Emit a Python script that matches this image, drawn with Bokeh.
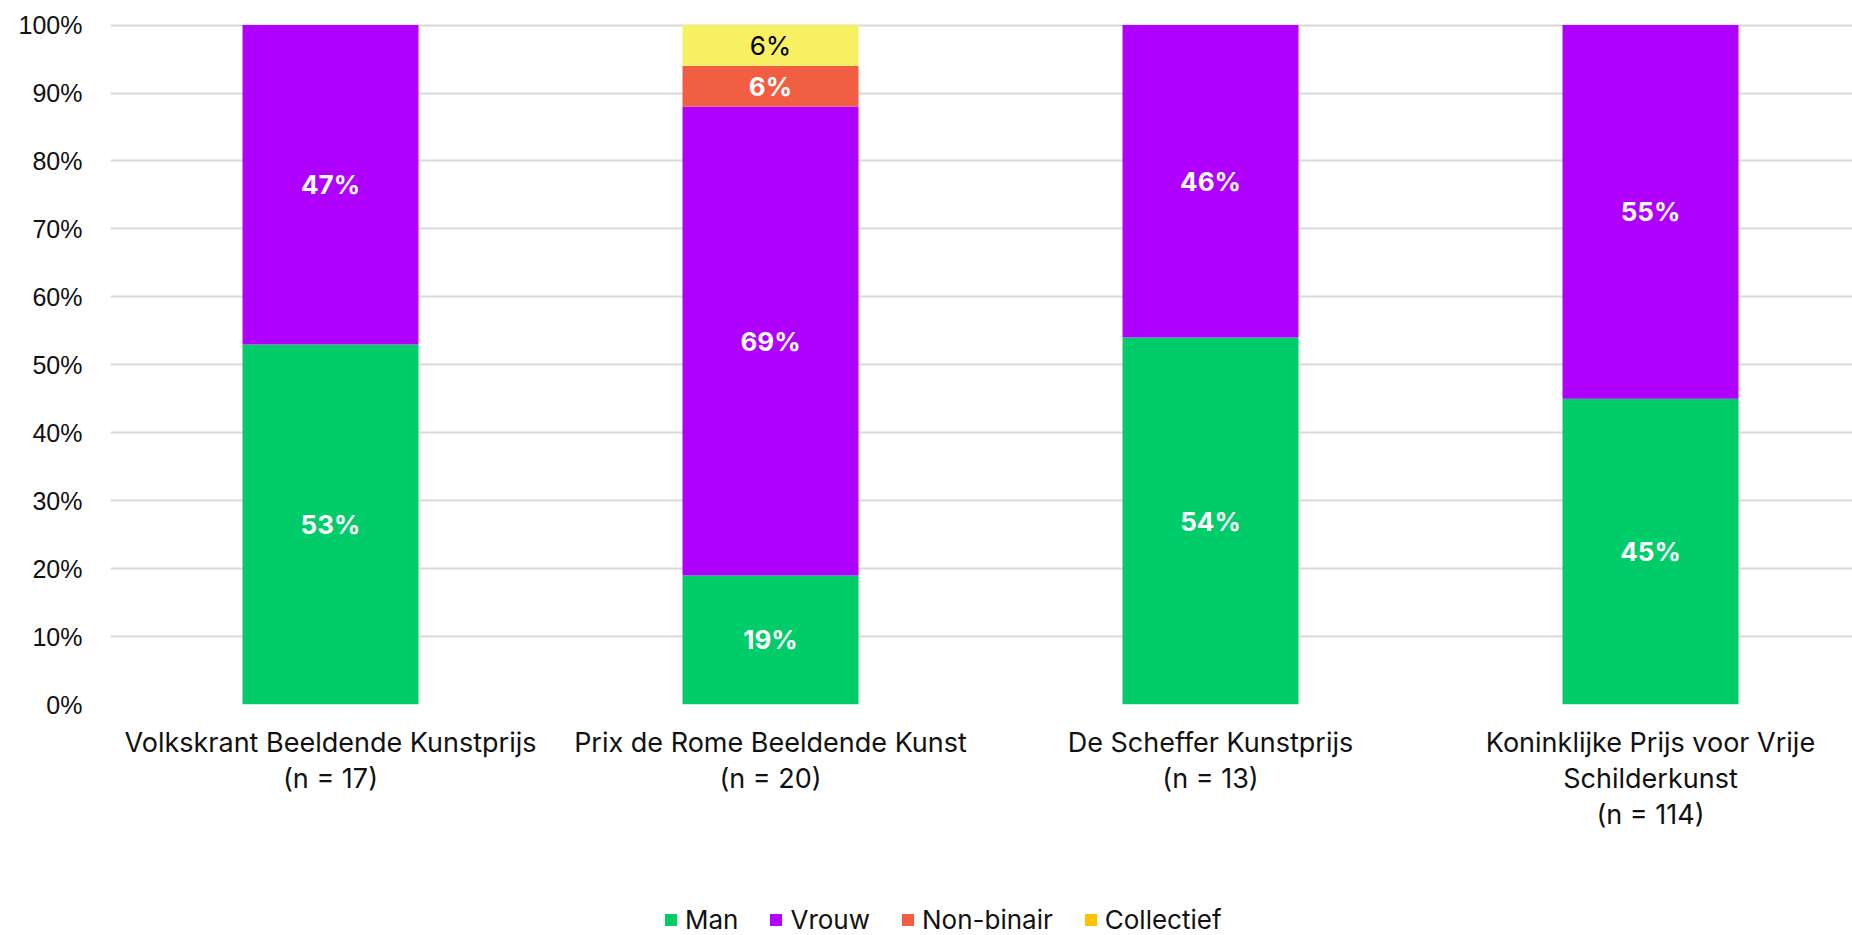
import numpy as np
from bokeh.plotting import figure
from bokeh.layouts import column
from bokeh.models import (ColumnDataSource, Range1d, FixedTicker, NumeralTickFormatter,
                          Legend, LegendItem)
from bokeh.core.properties import value
from bokeh.embed import file_html
from bokeh.resources import INLINE

# ---------------- data ----------------
categories = ["Volkskrant Beeldende Kunstprijs",
              "Prix de Rome Beeldende Kunst",
              "De Scheffer Kunstprijs",
              "Koninklijke Prijs voor Vrije\nSchilderkunst"]
sample_sizes = [17, 20, 13, 114]
man = [53, 19, 54, 45]
vrouw = [47, 69, 46, 55]
non_binair = [0, 6, 0, 0]
collectief = [0, 6, 0, 0]
series_names = ["Man", "Vrouw", "Non-binair", "Collectief"]
y_ticks = [0, 10, 20, 30, 40, 50, 60, 70, 80, 90, 100]

# ---------------- style ----------------
FONT = "Liberation Sans"
FONT2 = "Inter"
bar_colors = ["#00CC69", "#AF00FF", "#F25E42", "#F6F062"]
legend_colors = ["#00CC69", "#AF00FF", "#F25E42", "#FFC000"]
label_colors = ["white", "white", "white", "black"]
label_styles = ["bold", "bold", "bold", "normal"]

W = 1852
H_MAIN, H_LEG = 895, 40
LEFT, TOP = 110, 11
BOTTOM = H_MAIN - 704
PX_PER_CAT = 440
x_end = (W - LEFT) / PX_PER_CAT

p = figure(width=W, height=H_MAIN, title=None,
           x_range=Range1d(0, x_end), y_range=Range1d(0, 1.02),
           output_backend="svg", toolbar_location=None,
           min_border_left=LEFT, min_border_right=0,
           min_border_top=TOP, min_border_bottom=BOTTOM)
p.outline_line_color = None
p.background_fill_color = "white"
p.border_fill_color = "white"

xs = np.arange(len(categories)) + 0.5
series = [man, vrouw, non_binair, collectief]

bottom = np.zeros(len(categories))
for name, vals, col, lcol, lstyle in zip(series_names, series, bar_colors, label_colors, label_styles):
    v = np.array(vals, dtype=float) / 100.0
    top = bottom + v
    src = ColumnDataSource(dict(x=xs, bottom=bottom, top=top))
    p.vbar(x="x", width=0.4, bottom="bottom", top="top", source=src,
           fill_color=col, line_color=None)
    mask = v > 0
    lab = ColumnDataSource(dict(x=xs[mask], y=(bottom + v / 2)[mask],
                                t=[f"{int(round(x))}%" for x in np.array(vals)[mask]]))
    p.text(x="x", y="y", text="t", source=lab, text_align="center",
           text_baseline="middle", text_color=lcol, text_font=value(FONT2),
           text_font_size="26px", text_font_style=lstyle)
    bottom = top

# axes
p.yaxis.ticker = FixedTicker(ticks=[t / 100 for t in y_ticks])
p.yaxis.formatter = NumeralTickFormatter(format="0%")
p.yaxis.axis_line_color = None
p.yaxis.major_tick_line_color = None
p.yaxis.minor_tick_line_color = None
p.yaxis.major_label_standoff = 22
p.yaxis.major_label_text_font = FONT
p.yaxis.major_label_text_font_size = "25px"
p.yaxis.major_label_text_color = "#111111"

labels = [f"{c}\n(n = {n})" for c, n in zip(categories, sample_sizes)]
p.xaxis.ticker = FixedTicker(ticks=list(xs))
p.xaxis.major_label_overrides = {float(x): l for x, l in zip(xs, labels)}
p.xaxis.axis_line_color = None
p.xaxis.major_tick_line_color = None
p.xaxis.minor_tick_line_color = None
p.xaxis.major_label_standoff = 15
p.xaxis.major_label_text_font = FONT2
p.xaxis.major_label_text_font_size = "27px"
p.xaxis.major_label_text_line_height = 1.1
p.xaxis.major_label_text_color = "#111111"

p.xgrid.grid_line_color = None
p.ygrid.grid_line_color = "#D9D9D9"
p.ygrid.grid_line_width = 2
p.ygrid.level = "underlay"

# ---------------- legend strip ----------------
lg = figure(width=W, height=H_LEG, title=None, x_range=Range1d(0, 1), y_range=Range1d(0, 1),
            output_backend="svg", toolbar_location=None,
            min_border_left=0, min_border_right=0, min_border_top=0, min_border_bottom=0)
lg.axis.visible = False
lg.grid.visible = False
lg.outline_line_color = None
lg.background_fill_color = "white"
lg.border_fill_color = "white"

legend_renderers = []
for name, col in zip(series_names, legend_colors):
    r = lg.vbar(x=[-5], width=0.1, top=[-5], bottom=[-6], fill_color=col, line_color=None)
    legend_renderers.append(r)

legend = Legend(items=[LegendItem(label=n, renderers=[r]) for n, r in zip(series_names, legend_renderers)],
                orientation="horizontal", location=(553, 0),
                label_text_font=FONT2, label_text_font_size="26px", label_text_color="#111111",
                glyph_width=15, glyph_height=15, label_standoff=7, spacing=30,
                padding=0, margin=0, border_line_color=None, background_fill_alpha=0)
lg.add_layout(legend, "center")

layout = column(p, lg, spacing=0)
open("out.html", "w").write(file_html(layout, INLINE))
